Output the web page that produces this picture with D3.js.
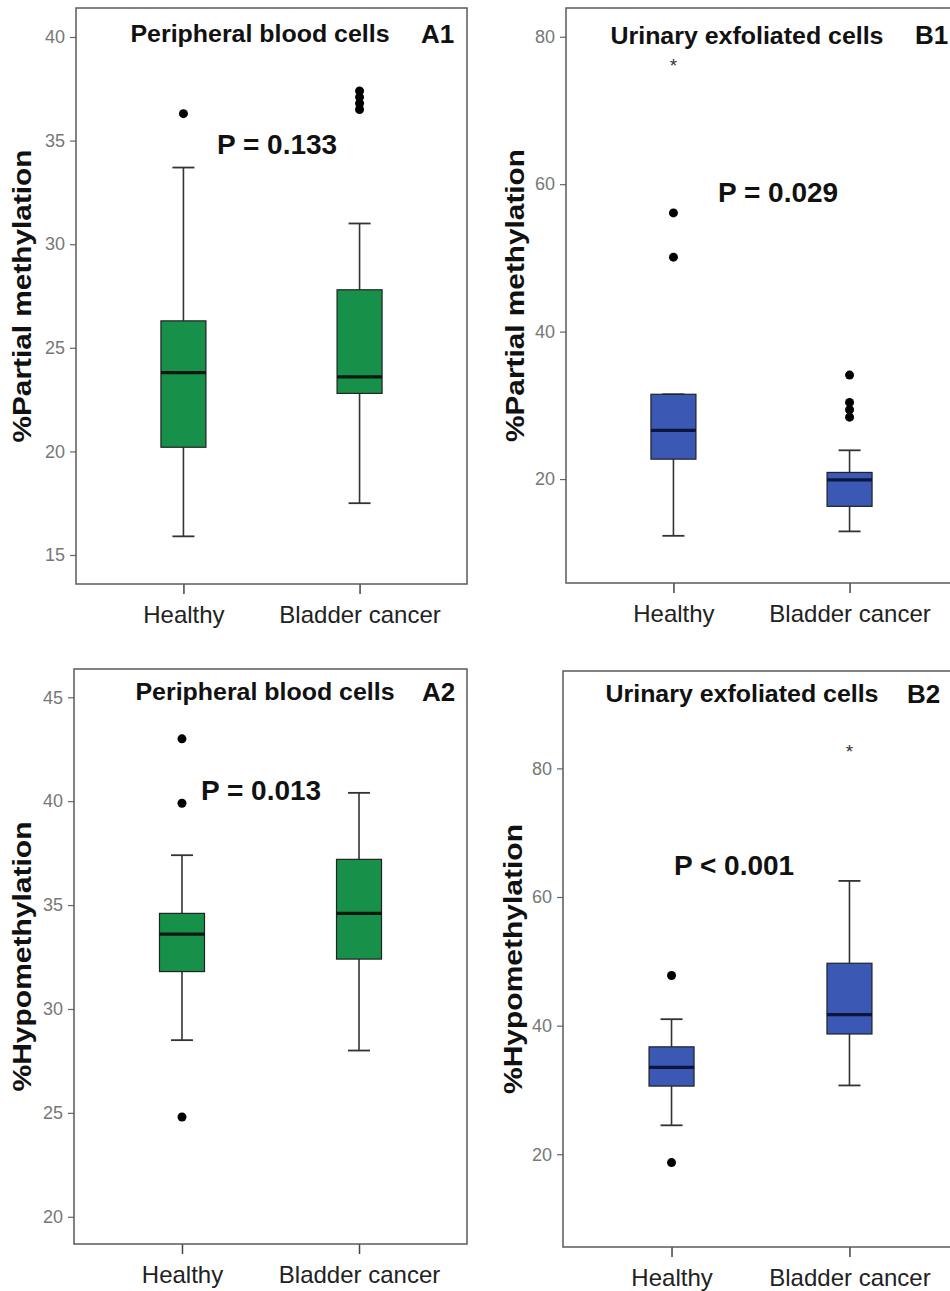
<!DOCTYPE html>
<html>
<head>
<meta charset="utf-8">
<script src="https://cdn.jsdelivr.net/npm/d3@7"></script>
<style>
  html, body { margin: 0; padding: 0; background: #fff; }
  svg { display: block; font-family: "Liberation Sans", Arial, sans-serif; }
</style>
</head>
<body>
<svg id="chart" width="950" height="1291"></svg>
<script>
// ---------------- DATA ----------------
const categories = ["Healthy", "Bladder cancer"];

// box stats per category: [whiskerLow, Q1, median, Q3, whiskerHigh]
const a1Stats = [[15.9, 20.2, 23.8, 26.3, 33.7], [17.5, 22.8, 23.6, 27.8, 31.0]];
const a1Outliers = [[36.3], [37.4, 37.1, 36.8, 36.5]];
const a1Extremes = [[], []];
const a1Ticks = [15, 20, 25, 30, 35, 40];

const b1Stats = [[12.3, 22.7, 26.6, 31.5, 31.5], [12.9, 16.3, 19.9, 20.9, 23.9]];
const b1Outliers = [[56.1, 50.1], [34.1, 30.4, 29.4, 28.4]];
const b1Extremes = [[76.7], []];
const b1Ticks = [20, 40, 60, 80];

const a2Stats = [[28.5, 31.8, 33.6, 34.6, 37.4], [28.0, 32.4, 34.6, 37.2, 40.4]];
const a2Outliers = [[43.0, 39.9, 24.8], []];
const a2Extremes = [[], []];
const a2Ticks = [20, 25, 30, 35, 40, 45];

const b2Stats = [[24.5, 30.6, 33.5, 36.7, 41.0], [30.7, 38.7, 41.7, 49.7, 62.5]];
const b2Outliers = [[47.8, 18.7], []];
const b2Extremes = [[], [83.3]];
const b2Ticks = [20, 40, 60, 80];

const panelTitles = ["Peripheral blood cells", "Urinary exfoliated cells", "Peripheral blood cells", "Urinary exfoliated cells"];
const panelTags = ["A1", "B1", "A2", "B2"];
const pValues = ["P = 0.133", "P = 0.029", "P = 0.013", "P < 0.001"];
const yLabels = ["%Partial methylation", "%Partial methylation", "%Hypomethylation", "%Hypomethylation"];

// ---------------- LAYOUT ----------------
const GREEN = "#179049", BLUE = "#3a58b4";
const panels = [
  { stats: a1Stats, out: a1Outliers, ext: a1Extremes, ticks: a1Ticks, domain: [13.6, 41.4],
    left: 76, right: 467, top: 8, bottom: 584, fill: GREEN, med: "#0b1a10",
    titleX: 260, titleY: 42, tagX: 421, tagY: 43, pX: 217, pY: 154, labX: 31 },
  { stats: b1Stats, out: b1Outliers, ext: b1Extremes, ticks: b1Ticks, domain: [5.9, 83.9],
    left: 566, right: 957, top: 8, bottom: 583, fill: BLUE, med: "#0a1540",
    titleX: 747, titleY: 44, tagX: 915, tagY: 44, pX: 718, pY: 202, labX: 524 },
  { stats: a2Stats, out: a2Outliers, ext: a2Extremes, ticks: a2Ticks, domain: [18.69, 46.36],
    left: 74, right: 467, top: 669, bottom: 1244, fill: GREEN, med: "#0b1a10",
    titleX: 265, titleY: 700, tagX: 422, tagY: 701, pX: 201, pY: 800, labX: 31 },
  { stats: b2Stats, out: b2Outliers, ext: b2Extremes, ticks: b2Ticks, domain: [5.58, 95.14],
    left: 563, right: 958, top: 671, bottom: 1247, fill: BLUE, med: "#0a1540",
    titleX: 742, titleY: 702, tagX: 907, tagY: 703, pX: 674, pY: 875, labX: 522 }
];

const svg = d3.select("#chart");
const BOXW = 45, CAPW = 22;

panels.forEach((p, i) => {
  const g = svg.append("g");
  const x = d3.scalePoint().domain(categories).range([p.left, p.right]).padding(0.61);
  const y = d3.scaleLinear().domain(p.domain).range([p.bottom, p.top]);

  // y axis ticks
  const ya = g.append("g").attr("transform", `translate(${p.left},0)`)
    .call(d3.axisLeft(y).tickValues(p.ticks).tickSize(6).tickPadding(5).tickFormat(d3.format("d")));
  ya.select(".domain").remove();
  ya.selectAll(".tick line").attr("stroke", "#666").attr("stroke-width", 1.2);
  ya.selectAll(".tick text").attr("fill", "#777").style("font-size", "18px")
    .style("font-family", "'Liberation Sans Narrow','Liberation Sans',Arial,sans-serif");

  // x axis ticks
  const xa = g.append("g").attr("transform", `translate(0,${p.bottom})`)
    .call(d3.axisBottom(x).tickSize(10).tickPadding(12));
  xa.select(".domain").remove();
  xa.selectAll(".tick line").attr("stroke", "#444").attr("stroke-width", 1.5);
  xa.selectAll(".tick text").attr("fill", "#222").style("font-size", "24px")
    .attr("dy", "0.71em");

  // frame
  g.append("rect").attr("x", p.left).attr("y", p.top)
    .attr("width", p.right - p.left).attr("height", p.bottom - p.top)
    .attr("fill", "none").attr("stroke", "#5a5a5a").attr("stroke-width", 1.5);

  // boxes
  const boxes = g.selectAll(".bx").data(p.stats).join("g").attr("class", "bx");
  boxes.each(function (s, j) {
    const c = x(categories[j]);
    const b = d3.select(this);
    // whiskers
    b.append("line").attr("x1", c).attr("x2", c).attr("y1", y(s[3])).attr("y2", y(s[4]))
      .attr("stroke", "#333").attr("stroke-width", 1.6);
    b.append("line").attr("x1", c).attr("x2", c).attr("y1", y(s[1])).attr("y2", y(s[0]))
      .attr("stroke", "#333").attr("stroke-width", 1.6);
    b.append("line").attr("x1", c - CAPW / 2).attr("x2", c + CAPW / 2).attr("y1", y(s[4])).attr("y2", y(s[4]))
      .attr("stroke", "#333").attr("stroke-width", 1.8);
    b.append("line").attr("x1", c - CAPW / 2).attr("x2", c + CAPW / 2).attr("y1", y(s[0])).attr("y2", y(s[0]))
      .attr("stroke", "#333").attr("stroke-width", 1.8);
    // box
    b.append("rect").attr("x", c - BOXW / 2).attr("width", BOXW)
      .attr("y", y(s[3])).attr("height", y(s[1]) - y(s[3]))
      .attr("fill", p.fill).attr("stroke", "#222").attr("stroke-width", 1.2);
    // median
    b.append("line").attr("x1", c - BOXW / 2).attr("x2", c + BOXW / 2).attr("y1", y(s[2])).attr("y2", y(s[2]))
      .attr("stroke", p.med).attr("stroke-width", 3.2);
  });

  // outliers (dots)
  p.out.forEach((arr, j) => {
    g.selectAll(null).data(arr).join("circle")
      .attr("cx", x(categories[j])).attr("cy", d => y(d)).attr("r", 4.5).attr("fill", "#000");
  });
  // extremes (stars)
  p.ext.forEach((arr, j) => {
    g.selectAll(null).data(arr).join("text")
      .attr("x", x(categories[j])).attr("y", d => y(d)).attr("dy", "0.55em")
      .attr("text-anchor", "middle").style("font-size", "19px").attr("fill", "#333").text("*");
  });

  // title, tag, p-value
  g.append("text").attr("x", p.titleX).attr("y", p.titleY).attr("text-anchor", "middle")
    .style("font-size", "23px").style("font-weight", "bold").attr("fill", "#111")
    .attr("textLength", i % 2 === 0 ? 259 : 273).attr("lengthAdjust", "spacingAndGlyphs")
    .text(panelTitles[i]);
  g.append("text").attr("x", p.tagX).attr("y", p.tagY)
    .style("font-size", "26px").style("font-weight", "bold").attr("fill", "#111")
    .text(panelTags[i]);
  g.append("text").attr("x", p.pX).attr("y", p.pY)
    .style("font-size", "28px").style("font-weight", "bold").attr("fill", "#111")
    .text(pValues[i]);

  // y label
  const cy = (p.top + p.bottom) / 2;
  g.append("text").attr("transform", `translate(${p.labX},${cy}) rotate(-90)`)
    .attr("text-anchor", "middle").style("font-size", "25px").style("font-weight", "bold")
    .attr("fill", "#111")
    .attr("textLength", i < 2 ? 293 : 270).attr("lengthAdjust", "spacingAndGlyphs")
    .text(yLabels[i]);
});
</script>
</body>
</html>
